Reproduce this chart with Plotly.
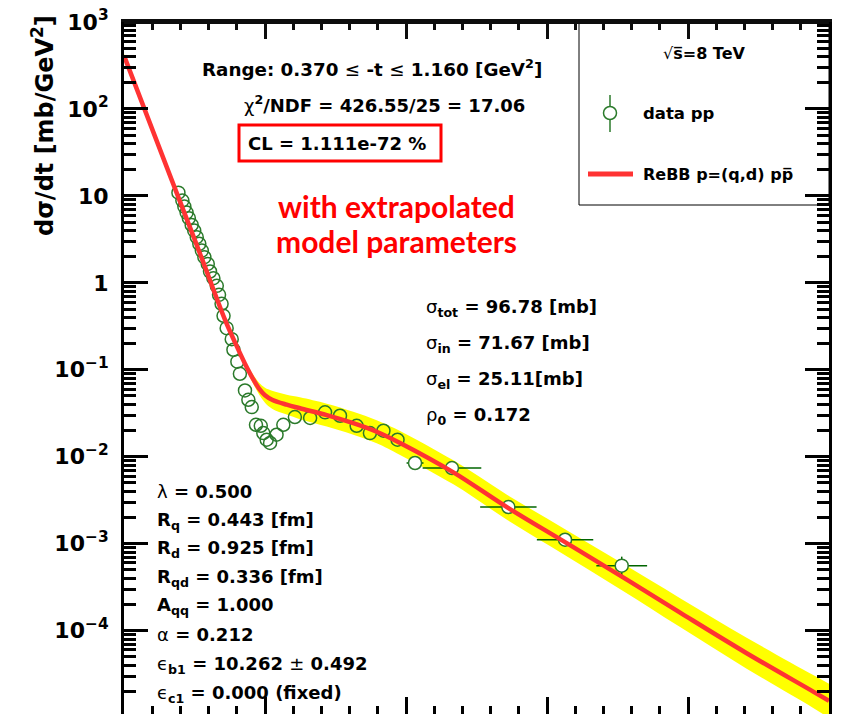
import plotly.graph_objects as go

# ---------------- data ----------------
t_data = [0.193, 0.207, 0.214, 0.222, 0.230, 0.240, 0.249, 0.258, 0.267, 0.276,
          0.285, 0.297, 0.305, 0.317, 0.329, 0.337, 0.346, 0.353, 0.364, 0.382,
          0.388, 0.402, 0.411, 0.429, 0.441, 0.453, 0.468, 0.485, 0.494, 0.506,
          0.518, 0.541, 0.565, 0.606, 0.660, 0.713, 0.766, 0.825, 0.872, 0.920,
          0.970, 1.032, 1.163, 1.363, 1.564, 1.765]
dsdt_data = [10.9, 8.83, 7.53, 6.43, 5.54, 4.64, 3.99, 3.35, 2.81, 2.35,
             1.97, 1.65, 1.35, 1.13, 0.924, 0.728, 0.574, 0.418, 0.301, 0.225,
             0.170, 0.124, 0.0899, 0.0578, 0.0452, 0.0372, 0.0233, 0.0227, 0.0187, 0.0157,
             0.0144, 0.0179, 0.0233, 0.0286, 0.0279, 0.0324, 0.0296, 0.0227, 0.0187, 0.0199,
             0.0157, 0.00847, 0.00741, 0.00264, 0.00111, 0.000559]
t_err = [0] * 41 + [0.03, 0.104, 0.10, 0.10, 0.09]
dsdt_err_up = [0] * 45 + [0.00015]
dsdt_err_down = [0] * 45 + [0.00016]

t_model = [0.0, 0.169, 0.270, 0.358, 0.394, 0.429, 0.457, 0.479, 0.500, 0.525,
           0.577, 0.624, 0.719, 0.813, 0.896, 0.979, 1.168, 1.362, 1.564, 1.764,
           1.972, 2.208, 2.444, 2.5]
dsdt_model = [410, 15.3, 2.15, 0.377, 0.205, 0.1175, 0.0791, 0.0607, 0.0510, 0.0453,
              0.0397, 0.0361, 0.0301, 0.0243, 0.0194, 0.0144, 0.00661, 0.00258, 0.00104, 0.000421,
              0.000161, 5.50e-5, 1.99e-5, 1.56e-5]
band_hi = [432, 16.1, 2.27, 0.397, 0.216, 0.1273, 0.0891, 0.0711, 0.0622, 0.0575,
           0.0517, 0.0483, 0.0408, 0.0330, 0.0263, 0.0198, 0.00908, 0.00359, 0.00147, 0.000602,
           0.000236, 8.29e-5, 3.08e-5, 2.45e-5]
band_lo = [389, 14.5, 2.04, 0.358, 0.1945, 0.1085, 0.0702, 0.0518, 0.0418, 0.0357,
           0.0305, 0.0270, 0.0222, 0.0179, 0.0143, 0.0105, 0.00481, 0.00185, 0.000737, 0.000294,
           0.000110, 3.65e-5, 1.29e-5, 0.99e-5]

x_range = [0, 2.5]
y_top = 1000
y_tickvals = [1e-4, 1e-3, 1e-2, 1e-1, 1, 10, 100, 1000]
y_ticktext = ["10<sup>\u22124</sup>", "10<sup>\u22123</sup>", "10<sup>\u22122</sup>",
              "10<sup>\u22121</sup>", "1", "10", "10<sup>2</sup>", "10<sup>3</sup>"]
y_minor = [m * 10 ** e for e in range(-5, 3) for m in range(2, 10)]

# ---------------- layout geometry (page pixels) ----------------
W, H = 848, 714
OFF = 8  # default page (body) margin in the browser
L, R, T, B = 124, 829, 22, 714


def X(px):
    return (px - L) / (R - L)


def Y(py):
    return (B - py) / (B - T)


GREEN = "#2b7a2b"
EGREEN = "#006400"
RED = "#ff3333"
FRAME = "#0d0d0d"
FONT = "DejaVu Sans"

fig = go.Figure()

# uncertainty band
fig.add_trace(go.Scatter(x=t_model, y=band_lo, mode="lines",
                         line=dict(width=0, shape="spline", color="#ffff00"),
                         showlegend=False, hoverinfo="skip"))
fig.add_trace(go.Scatter(x=t_model, y=band_hi, mode="lines", fill="tonexty",
                         fillcolor="#ffff00",
                         line=dict(width=0, shape="spline", color="#ffff00"),
                         showlegend=False, hoverinfo="skip"))

# data
fill_cols = ["rgba(255,255,255,0)" if e == 0 else "white" for e in t_err]
fig.add_trace(go.Scatter(
    x=t_data, y=dsdt_data, mode="markers", name="data pp",
    marker=dict(symbol="circle", size=13, color=fill_cols,
                line=dict(color=GREEN, width=1.5)),
    error_x=dict(type="data", array=t_err, color=EGREEN, thickness=1.5, width=0),
    error_y=dict(type="data", symmetric=False, array=dsdt_err_up,
                 arrayminus=dsdt_err_down, color=EGREEN, thickness=1.5, width=0),
    showlegend=False))

# model curve
fig.add_trace(go.Scatter(x=t_model, y=dsdt_model, mode="lines", name="ReBB",
                         line=dict(color=RED, width=4.5, shape="spline"),
                         showlegend=False))

# top frame edge, drawn on the upper x axis
fig.add_trace(go.Scatter(x=x_range, y=[y_top, y_top], xaxis="x2", mode="lines",
                         line=dict(color=FRAME, width=3), cliponaxis=False,
                         showlegend=False, hoverinfo="skip"))

shapes = []
# legend box
shapes.append(dict(type="rect", xref="paper", yref="paper", x0=X(579), x1=X(829),
                   y0=Y(205), y1=Y(22), line=dict(color="black", width=1),
                   fillcolor="white", layer="below"))
# CL red box
shapes.append(dict(type="rect", xref="paper", yref="paper", x0=X(239), x1=X(441),
                   y0=Y(161), y1=Y(125), line=dict(color="#ff0000", width=3),
                   layer="above"))
# legend glyphs
shapes.append(dict(type="circle", xref="paper", yref="paper", x0=X(603.5), x1=X(616.5),
                   y0=Y(119.5), y1=Y(106.5), line=dict(color=GREEN, width=1.5), layer="above"))
shapes.append(dict(type="line", xref="paper", yref="paper", x0=X(610), x1=X(610),
                   y0=Y(95), y1=Y(106.5), line=dict(color=GREEN, width=1.5), layer="above"))
shapes.append(dict(type="line", xref="paper", yref="paper", x0=X(610), x1=X(610),
                   y0=Y(119.5), y1=Y(132), line=dict(color=GREEN, width=1.5), layer="above"))
shapes.append(dict(type="line", xref="paper", yref="paper", x0=X(588), x1=X(633),
                   y0=Y(174), y1=Y(174), line=dict(color=RED, width=5), layer="above"))
# top frame edge (second way of drawing it)
shapes.append(dict(type="rect", xref="paper", yref="paper", x0=0, x1=1,
                   y0=Y(24), y1=Y(21), line=dict(width=0), fillcolor=FRAME, layer="above"))

annotations = []


def txt(text, px, py, size=18, anchor="left", color="black", family=FONT, angle=0):
    annotations.append(dict(text=text, xref="paper", yref="paper", x=X(px), y=Y(py),
                            xanchor=anchor, yanchor="middle", showarrow=False,
                            textangle=angle,
                            font=dict(family=family, size=size, color=color)))


txt("<b>Range: 0.370 </b>\u2264<b> -t </b>\u2264<b> 1.160 [GeV<sup>2</sup>]</b>", 200, 68, size=18.3)
txt("\u03c7<sup><b>2</b></sup><b>/NDF = 426.55/25 = 17.06</b>", 242, 104)
txt("<b>CL = 1.111e-72 %</b>", 246, 143)
txt("<b>with extrapolated</b>", 396, 206, size=30, anchor="center", color="#ff0000", family="Lato")
txt("<b>model parameters</b>", 396, 241, size=30, anchor="center", color="#ff0000", family="Lato")

txt("\u03c3<sub><b>tot</b></sub><b> = 96.78 [mb]</b>", 424, 308)
txt("\u03c3<sub><b>in</b></sub><b> = 71.67 [mb]</b>", 424, 344)
txt("\u03c3<sub><b>el</b></sub><b> = 25.11[mb]</b>", 424, 380)
txt("\u03c1<sub><b>0</b></sub><b> = 0.172</b>", 424, 416)

left_lines = [
    "\u03bb<b> = 0.500</b>",
    "<b>R<sub>q</sub> = 0.443 [fm]</b>",
    "<b>R<sub>d</sub> = 0.925 [fm]</b>",
    "<b>R<sub>qd</sub> = 0.336 [fm]</b>",
    "<b>A<sub>qq</sub> = 1.000</b>",
    "\u03b1<b> = 0.212</b>",
    "\u03f5<sub><b>b1</b></sub><b> = 10.262 </b>\u00b1<b> 0.492</b>",
    "\u03f5<sub><b>c1</b></sub><b> = 0.000 (fixed)</b>",
]
left_y = [491, 521, 549, 578, 606, 634, 665, 694]
for s, yy in zip(left_lines, left_y):
    txt(s, 155, yy)

# legend texts
txt("\u221a<b>s\u0305=8 TeV</b>", 704, 53, size=16, anchor="center")
txt("<b>data pp</b>", 641, 113, size=16.5)
txt("<b>ReBB p=(q,d) pp\u0305</b>", 641, 174, size=16)

# y-axis title
txt("<b>d\u03c3/dt [mb/GeV<sup>2</sup>]</b>", 43, 126, size=24, anchor="center", angle=-90)

xticks = dict(ticks="inside", ticklen=17, tickwidth=3, tick0=0,
              dtick=0.5, showticklabels=False, showgrid=False, zeroline=False,
              automargin=False)

fig.update_layout(
    width=W, height=H,
    margin=dict(l=L - OFF, r=W - (R - OFF), t=T - OFF, b=H - (B - OFF), autoexpand=False),
    paper_bgcolor="white", plot_bgcolor="white",
    showlegend=False,
    shapes=shapes, annotations=annotations,
    xaxis=dict(range=x_range, showline=False, mirror="ticks", tickcolor="black",
               minor=dict(ticks="inside", ticklen=8, tickwidth=3, tickcolor="black",
                          tick0=0, dtick=0.1, showgrid=False),
               **xticks),
    xaxis2=dict(range=x_range, overlaying="x", side="top", anchor="y",
                showline=True, linewidth=3, linecolor=FRAME, tickcolor=FRAME,
                minor=dict(ticks="inside", ticklen=8, tickwidth=3, tickcolor=FRAME,
                           tick0=0, dtick=0.1, showgrid=False),
                **xticks),
    yaxis=dict(type="log", range=[-4.959, 3], showline=True, linewidth=3,
               automargin=False, ticklabeloverflow="allow",
               linecolor="black", mirror="ticks", ticks="inside", ticklen=24,
               tickwidth=3, tickcolor="black", tickmode="array",
               tickvals=y_tickvals, ticktext=y_ticktext, ticklabelstandoff=8,
               tickfont=dict(family=FONT, size=22, color="black", weight="bold"),
               showgrid=False, zeroline=False,
               minor=dict(ticks="inside", ticklen=12, tickwidth=3, tickcolor="black",
                          tickmode="array", tickvals=y_minor, showgrid=False)),
)

fig.write_html("out.html")
